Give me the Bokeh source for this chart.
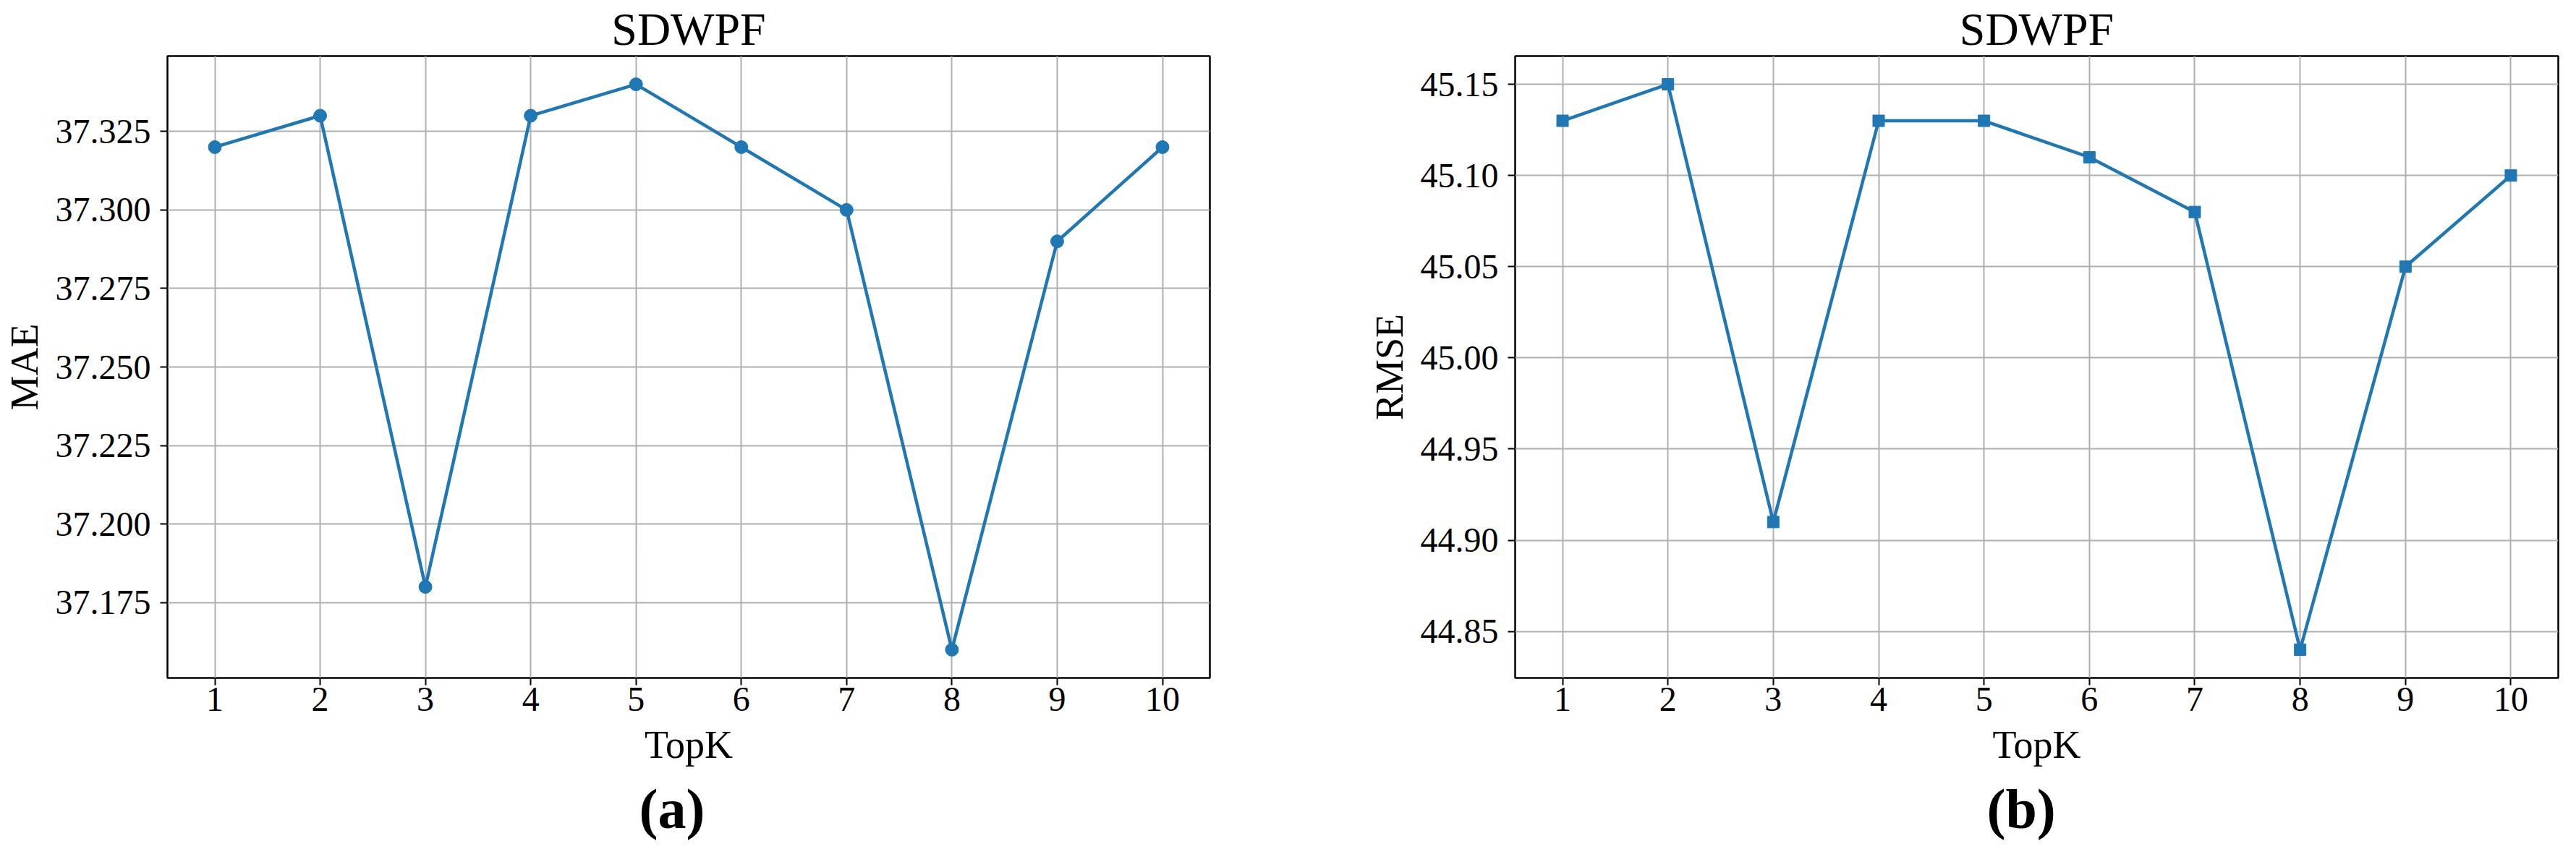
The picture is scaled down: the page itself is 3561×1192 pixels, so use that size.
from bokeh.plotting import figure
from bokeh.layouts import row
from bokeh.models import Range1d, FixedTicker, Title
from bokeh.embed import file_html
from bokeh.resources import INLINE

topk = [1, 2, 3, 4, 5, 6, 7, 8, 9, 10]
mae = [37.32, 37.33, 37.18, 37.33, 37.34, 37.32, 37.30, 37.16, 37.29, 37.32]
rmse = [45.13, 45.15, 44.91, 45.13, 45.13, 45.11, 45.08, 44.84, 45.05, 45.10]
mae_ticks = [37.175, 37.200, 37.225, 37.250, 37.275, 37.300, 37.325]
rmse_ticks = [44.85, 44.90, 44.95, 45.00, 45.05, 45.10, 45.15]
title_text = "SDWPF"
xlabel = "TopK"
captions = ["(a)", "(b)"]

FONT = "Liberation Serif"
BLUE = "#1f77b4"
FRAME_TOP = 72
FRAME_H = 860


def make(ys, ticks, fmt, ylabel, caption, frame_w, bl, br, marker):
    lo, hi = min(ys), max(ys)
    m = (hi - lo) * 0.05
    p = figure(frame_width=frame_w, frame_height=FRAME_H, output_backend="svg",
               toolbar_location=None,
               x_range=Range1d(0.55, 10.45), y_range=Range1d(lo - m, hi + m),
               min_border_left=bl, min_border_right=br, min_border_top=FRAME_TOP,
               min_border_bottom=0)
    p.title.text = title_text
    p.title.text_font = FONT
    p.title.text_font_size = "64px"
    p.title.text_font_style = "normal"
    p.title.text_color = "black"
    p.title.align = "center"
    p.title.standoff = 4
    p.line(topk, ys, line_color=BLUE, line_width=4.5)
    if marker == "circle":
        p.scatter(topk, ys, marker="circle", size=18, fill_color=BLUE, line_color=BLUE)
    else:
        p.scatter(topk, ys, marker="square", size=16, fill_color=BLUE, line_color=BLUE)
    p.xaxis.ticker = FixedTicker(ticks=topk)
    p.yaxis.ticker = FixedTicker(ticks=ticks)
    p.yaxis.major_label_overrides = {t: fmt.format(t) for t in ticks}
    p.xaxis.axis_label = xlabel
    p.yaxis.axis_label = ylabel
    for ax in (p.xaxis[0], p.yaxis[0]):
        ax.axis_label_text_font = FONT
        ax.axis_label_text_font_size = "54px"
        ax.axis_label_text_font_style = "normal"
        ax.axis_label_text_color = "black"
        ax.major_label_text_font = FONT
        ax.major_label_text_font_size = "48px"
        ax.major_label_text_color = "black"
        ax.major_tick_out = 10
        ax.major_tick_in = 0
        ax.minor_tick_out = 0
        ax.minor_tick_in = 0
        ax.major_tick_line_width = 2
        ax.major_tick_line_color = "black"
        ax.axis_line_color = None
    p.xaxis.major_label_standoff = 3
    p.xaxis.axis_label_standoff = 14
    p.yaxis.major_label_standoff = 13
    p.yaxis.axis_label_standoff = 10
    p.grid.grid_line_color = "#b0b0b0"
    p.grid.grid_line_width = 2
    p.outline_line_color = "black"
    p.outline_line_width = 2.5
    p.outline_line_alpha = 1
    cap = Title(text=caption, align="left", offset=652, text_font=FONT,
                text_font_size="78px", text_font_style="bold", text_color="black",
                standoff=20)
    p.add_layout(cap, "below")
    return p


p1 = make(mae, mae_ticks, "{:.3f}", "MAE", captions[0], 1441, 230, 209, "circle")
p2 = make(rmse, rmse_ticks, "{:.2f}", "RMSE", captions[1], 1442, 213, 10, "square")

layout = row(p1, p2)
open("out.html", "w").write(file_html(layout, INLINE))
